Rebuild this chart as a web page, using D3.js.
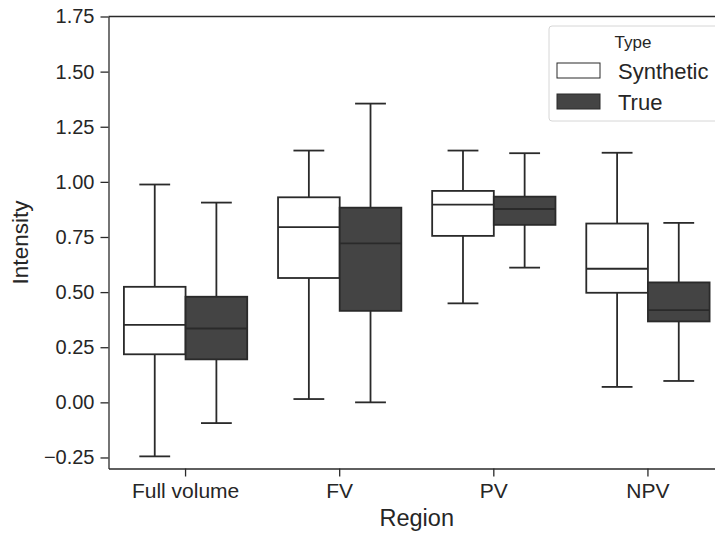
<!DOCTYPE html>
<html>
<head>
<meta charset="utf-8">
<script src="https://cdn.jsdelivr.net/npm/d3@7"></script>
<style>
  body { margin: 0; background: #fff; }
  text { font-family: "Liberation Sans", Arial, sans-serif; fill: #262626; }
</style>
</head>
<body>
<div id="chart"></div>
<script>
// categories and legend entries
var regions = ["Full volume", "FV", "PV", "NPV"];
var types = ["Synthetic", "True"];
var yTicks = [-0.25, 0, 0.25, 0.5, 0.75, 1.0, 1.25, 1.5, 1.75];

// box stats per region: [lower whisker, Q1, median, Q3, upper whisker]
var syntheticStats = [
    [-0.245, 0.218, 0.351, 0.524, 0.988],
    [0.015, 0.564, 0.795, 0.930, 1.142],
    [0.449, 0.755, 0.897, 0.959, 1.142],
    [0.070, 0.497, 0.606, 0.811, 1.132]
];
var trueStats = [
    [-0.094, 0.195, 0.335, 0.479, 0.906],
    [0.000, 0.415, 0.721, 0.883, 1.355],
    [0.611, 0.805, 0.877, 0.933, 1.130],
    [0.097, 0.367, 0.418, 0.544, 0.814]
];

var w = 715, h = 533;
var mLeft = 108.5, mRight = 725, mTop = 16.5, mBottom = 468.5;
var lineCol = "#2a2a2a";
var fills = {"Synthetic": "#ffffff", "True": "#444444"};

var svg = d3.select("#chart").append("svg")
    .attr("width", w)
    .attr("height", h);

var x = d3.scaleBand()
    .domain(regions)
    .range([mLeft, mRight])
    .paddingInner(0.2)
    .paddingOuter(0.1);

var xType = d3.scaleBand()
    .domain(types)
    .range([0, x.bandwidth()]);

var y = d3.scaleLinear()
    .domain([-0.3, 1.75])
    .range([mBottom, mTop]);

// build rows for drawing
var rows = [];
regions.forEach(function (r, i) {
    rows.push({region: r, type: "Synthetic", s: syntheticStats[i]});
    rows.push({region: r, type: "True", s: trueStats[i]});
});

var boxes = svg.append("g").selectAll("g")
    .data(rows)
    .enter()
    .append("g")
    .attr("transform", function (d) {
        return "translate(" + (x(d.region) + xType(d.type)) + ",0)";
    });

var bw = xType.bandwidth();

//whiskers
boxes.append("line")
    .attr("x1", bw / 2).attr("x2", bw / 2)
    .attr("y1", function (d) { return y(d.s[0]); })
    .attr("y2", function (d) { return y(d.s[1]); })
    .attr("stroke", lineCol).attr("stroke-width", 1.8);
boxes.append("line")
    .attr("x1", bw / 2).attr("x2", bw / 2)
    .attr("y1", function (d) { return y(d.s[3]); })
    .attr("y2", function (d) { return y(d.s[4]); })
    .attr("stroke", lineCol).attr("stroke-width", 1.8);

//caps
[0, 4].forEach(function (k) {
    boxes.append("line")
        .attr("x1", bw / 4).attr("x2", bw * 3 / 4)
        .attr("y1", function (d) { return y(d.s[k]); })
        .attr("y2", function (d) { return y(d.s[k]); })
        .attr("stroke", lineCol).attr("stroke-width", 1.8);
});

//box
boxes.append("rect")
    .attr("x", 0)
    .attr("width", bw)
    .attr("y", function (d) { return y(d.s[3]); })
    .attr("height", function (d) { return y(d.s[1]) - y(d.s[3]); })
    .style("fill", function (d) { return fills[d.type]; })
    .attr("stroke", lineCol).attr("stroke-width", 1.8);

//median
boxes.append("line")
    .attr("x1", 0).attr("x2", bw)
    .attr("y1", function (d) { return y(d.s[2]); })
    .attr("y2", function (d) { return y(d.s[2]); })
    .attr("stroke", lineCol).attr("stroke-width", 1.8);

// axes
var yAxis = svg.append("g")
    .attr("transform", "translate(" + mLeft + ",0)")
    .call(d3.axisLeft(y).tickValues(yTicks).tickFormat(d3.format(".2f"))
        .tickSize(8).tickSizeOuter(0).tickPadding(6));
var xAxis = svg.append("g")
    .attr("transform", "translate(0," + mBottom + ")")
    .call(d3.axisBottom(x).tickSize(8).tickSizeOuter(0).tickPadding(7));

[yAxis, xAxis].forEach(function (a) {
    a.select(".domain").attr("stroke", lineCol).attr("stroke-width", 1.3);
    a.selectAll(".tick line").attr("stroke", lineCol).attr("stroke-width", 1.3);
    a.selectAll(".tick text").style("font-family", "Liberation Sans, Arial, sans-serif").attr("fill", "#262626");
});
yAxis.selectAll(".tick text").style("font-size", "20px");
xAxis.selectAll(".tick text").style("font-size", "21px");

// top spine
svg.append("line")
    .attr("x1", mLeft).attr("x2", mRight)
    .attr("y1", mTop).attr("y2", mTop)
    .attr("stroke", lineCol).attr("stroke-width", 1.3);

// axis titles
svg.append("text")
    .attr("transform", "translate(28," + ((mTop + mBottom) / 2) + ") rotate(-90)")
    .attr("text-anchor", "middle")
    .style("font-size", "22.5px")
    .text("Intensity");
svg.append("text")
    .attr("x", (mLeft + mRight) / 2)
    .attr("y", 526)
    .attr("text-anchor", "middle")
    .style("font-size", "23.5px")
    .text("Region");

// legend
var lg = svg.append("g").attr("transform", "translate(549,26)");
lg.append("rect")
    .attr("width", 180).attr("height", 95)
    .attr("rx", 3)
    .style("fill", "#fff")
    .attr("stroke", "#d6d6d6").attr("stroke-width", 1);
lg.append("text")
    .attr("x", 84).attr("y", 22)
    .attr("text-anchor", "middle")
    .style("font-size", "17px")
    .text("Type");
types.forEach(function (t, i) {
    lg.append("rect")
        .attr("x", 8).attr("y", 37 + i * 31)
        .attr("width", 43).attr("height", 15)
        .style("fill", fills[t])
        .attr("stroke", lineCol).attr("stroke-width", 1);
    lg.append("text")
        .attr("x", 69).attr("y", 53 + i * 31)
        .style("font-size", "22px")
        .text(t);
});
</script>
</body>
</html>
